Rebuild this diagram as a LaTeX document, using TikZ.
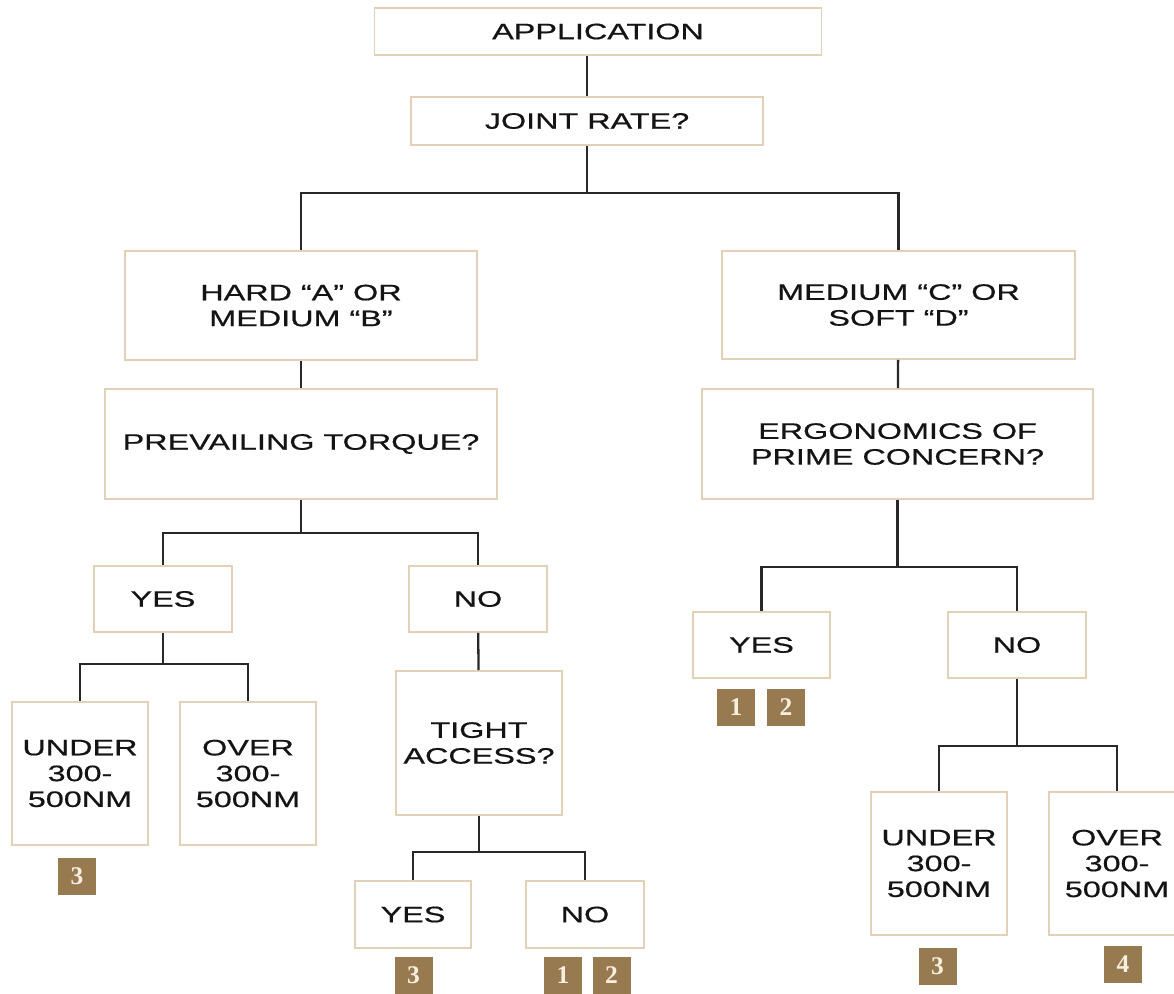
\documentclass[tikz,border=0pt]{standalone}
\usepackage{fontspec}
\setmainfont{Liberation Sans}[FakeStretch=1.45, FakeBold=0.6]
\newfontfamily\badgefont{Liberation Serif}
\usetikzlibrary{positioning, calc}
\definecolor{edge}{RGB}{226, 209, 182}
\definecolor{badge}{RGB}{152, 122, 80}
\definecolor{digit}{RGB}{246, 238, 222}
\definecolor{wire}{RGB}{40, 40, 40}
\definecolor{ink}{RGB}{20, 20, 20}

\begin{document}
\begin{tikzpicture}[
    box/.style={rectangle, draw=edge, line width=1pt, fill=white, text=ink,
                inner sep=0pt, align=center, font=\fontsize{12.7}{14.7}\selectfont},
    tag/.style={rectangle, fill=badge, text=digit, inner sep=0pt,
                minimum width=0.76cm, minimum height=0.74cm,
                font=\fontsize{14.5}{14.5}\selectfont\badgefont\bfseries},
    link/.style={draw=wire, line width=1.3pt}]

    \useasboundingbox (0, 0) rectangle (23.48, -19.86);

    % Top
    \node[box, minimum width=8.94cm, minimum height=0.94cm] (app) at (11.96, -0.63) {APPLICATION};
    \node[box, minimum width=7.04cm, minimum height=0.96cm] (joint) at (11.74, -2.42) {JOINT RATE?};

    % Joint classes
    \node[box, minimum width=7.04cm, minimum height=2.18cm] (hard) at (6.02, -6.11) {HARD “A” OR\\MEDIUM “B”};
    \node[box, minimum width=7.06cm, minimum height=2.16cm] (soft) at (17.97, -6.10) {MEDIUM “C” OR\\SOFT “D”};

    % Questions
    \node[box, minimum width=7.84cm, minimum height=2.2cm] (torque) at (6.02, -8.88) {PREVAILING TORQUE?};
    \node[box, minimum width=7.82cm, minimum height=2.2cm] (ergo) at (17.95, -8.88) {ERGONOMICS OF\\PRIME CONCERN?};

    % Torque answers
    \node[box, minimum width=2.76cm, minimum height=1.32cm] (tqyes) at (3.26, -11.98) {YES};
    \node[box, minimum width=2.76cm, minimum height=1.32cm] (tqno) at (9.56, -11.98) {NO};
    \node[box, minimum width=2.72cm, minimum height=2.86cm] (under) at (1.60, -15.47) {UNDER\\300-\\500NM};
    \node[box, minimum width=2.72cm, minimum height=2.86cm] (over) at (4.96, -15.47) {OVER\\300-\\500NM};
    \node[box, minimum width=3.32cm, minimum height=2.88cm] (tight) at (9.58, -14.86) {TIGHT\\ACCESS?};
    \node[box, minimum width=2.32cm, minimum height=1.34cm] (tiyes) at (8.26, -18.29) {YES};
    \node[box, minimum width=2.36cm, minimum height=1.34cm] (tino) at (11.70, -18.29) {NO};

    % Ergonomics answers
    \node[box, minimum width=2.74cm, minimum height=1.32cm] (eryes) at (15.23, -12.90) {YES};
    \node[box, minimum width=2.76cm, minimum height=1.32cm] (erno) at (20.34, -12.90) {NO};
    \node[box, minimum width=2.72cm, minimum height=2.86cm] (under2) at (18.78, -17.27) {UNDER\\300-\\500NM};
    \node[box, minimum width=2.72cm, minimum height=2.86cm] (over2) at (22.34, -17.27) {OVER\\300-\\500NM};

    % Badges
    \node[tag] (b1) at (1.54, -17.52) {3};
    \node[tag] (b2) at (8.27, -19.50) {3};
    \node[tag] (b3) at (11.26, -19.50) {1};
    \node[tag] (b4) at (12.23, -19.50) {2};
    \node[tag] (b5) at (14.72, -14.14) {1};
    \node[tag] (b6) at (15.72, -14.14) {2};
    \node[tag] (b7) at (18.75, -19.32) {3};
    \node[tag] (b8) at (22.46, -19.28) {4};

    % Connectors
    \draw[link] (app.south -| joint.north) -- (joint.north);
    \draw[link] (joint.south) -- ++(0, -0.94) coordinate (jbar);
    \draw[link] (hard.north) |- (jbar) -| (soft.north);
    \draw[link] (hard) -- (torque);
    \draw[link] (soft) -- (ergo);
    \draw[link] (torque.south) -- ++(0, -0.66) coordinate (tbar);
    \draw[link] (tqyes.north) |- (tbar) -| (tqno.north);
    \draw[link] (tqyes.south) -- ++(0, -0.62) coordinate (ybar);
    \draw[link] (under.north) |- (ybar) -| (over.north);
    \draw[link] (tqno) -- (tight);
    \draw[link] (tight.south) -- ++(0, -0.72) coordinate (abar);
    \draw[link] (tiyes.north) |- (abar) -| (tino.north);
    \draw[link] (ergo.south) -- ++(0, -1.34) coordinate (ebar);
    \draw[link] (eryes.north) |- (ebar) -| (erno.north);
    \draw[link] (erno.south) -- ++(0, -1.34) coordinate (nbar);
    \draw[link] (under2.north) |- (nbar) -| (over2.north);
\end{tikzpicture}
\end{document}
